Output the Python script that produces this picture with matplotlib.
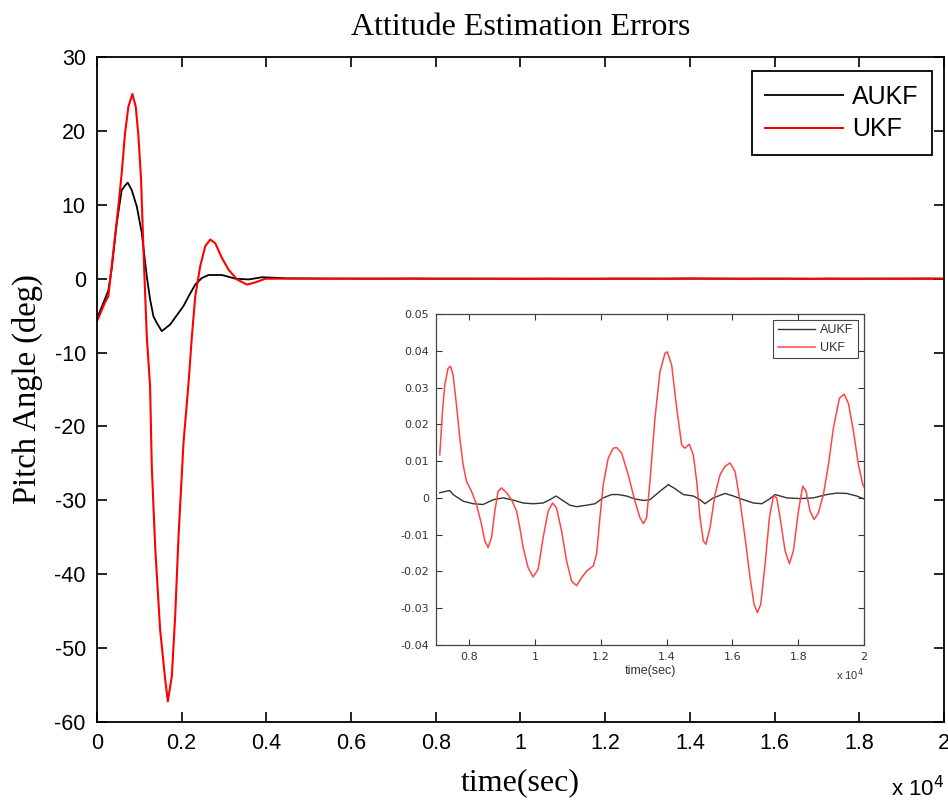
import matplotlib.pyplot as plt
from matplotlib.ticker import FuncFormatter, MultipleLocator
import numpy as np

plt.rcParams['axes.unicode_minus'] = False

# transient part of the response (time in s, pitch error in deg)
t_aukf_start = [20, 150, 268, 347, 466, 584, 663, 726, 820, 939, 1057, 1176,
                1254, 1333, 1413, 1531, 1728, 2043, 2162, 2320, 2478, 2635,
                2951, 3267, 3582, 3898, 4500, 5500, 6500]
aukf_start = [-5.1, -3.3, -1.6, 1.3, 7.5, 12.0, 12.6, 13.0, 12.0, 9.8, 6.2,
              0.3, -2.8, -5.1, -6.0, -7.1, -6.2, -3.7, -2.4, -0.8, 0.1, 0.5,
              0.5, 0.0, -0.1, 0.2, 0.05, 0.01, 0.002]

t_ukf_start = [20, 190, 268, 347, 426, 505, 584, 663, 742, 836, 915, 979,
               1041, 1097, 1176, 1254, 1294, 1373, 1491, 1610, 1673, 1767,
               1846, 1925, 2043, 2162, 2241, 2320, 2438, 2556, 2675, 2793,
               2951, 3109, 3306, 3543, 3740, 3977, 4500, 5500, 6500]
ukf_start = [-5.5, -3.2, -2.4, 1.7, 5.7, 9.8, 14.3, 19.7, 23.3, 25.0, 23.3,
             19.3, 13.4, 3.9, -7.8, -14.6, -25.4, -36.2, -47.5, -54.2, -57.2,
             -53.8, -45.7, -34.9, -22.2, -14.1, -7.8, -2.4, 1.7, 4.4, 5.3, 4.8,
             2.8, 1.2, -0.1, -0.8, -0.5, 0.0, 0.0, 0.01, 0.005]

# steady-state part (zoomed view)
t_aukf_ss = [7112, 7416, 7517, 7821, 8126, 8430, 8734, 9038, 9343, 9644,
             9948, 10252, 10455, 10638, 10812, 11065, 11268, 11572, 11825,
             12077, 12330, 12532, 12786, 13040, 13300, 13496, 13800, 14054,
             14257, 14510, 14815, 15016, 15168, 15421, 15776, 16030, 16334,
             16638, 16891, 17094, 17296, 17651, 18056, 18460, 18866, 19170,
             19474, 19778, 20000]
aukf_ss = [0.0014, 0.0020, 0.0009, -0.0009, -0.0016, -0.0018, -0.0005, 0.0,
           -0.0006, -0.0014, -0.0016, -0.0014, -0.0005, 0.0005, -0.0005,
           -0.0020, -0.0024, -0.0020, -0.0016, 0.0, 0.0009, 0.0009, 0.0005,
           -0.0003, -0.0007, -0.0005, 0.0018, 0.0036, 0.0025, 0.0009, 0.0005,
           -0.0005, -0.0016, 0.0, 0.0012, 0.0005, -0.0005, -0.0014, -0.0016,
           -0.0005, 0.0009, 0.0, -0.0002, 0.0, 0.0009, 0.0013, 0.0012, 0.0005,
           -0.0003]

t_ukf_ss = [7112, 7194, 7264, 7364, 7437, 7517, 7619, 7720, 7821, 7923, 8075,
            8227, 8379, 8480, 8580, 8683, 8784, 8884, 8987, 9140, 9292, 9444,
            9544, 9644, 9796, 9948, 10101, 10252, 10404, 10537, 10657, 10812,
            10964, 11116, 11268, 11420, 11572, 11775, 11875, 11976, 12077,
            12228, 12380, 12483, 12636, 12836, 13040, 13192, 13300, 13395,
            13496, 13648, 13800, 13952, 14023, 14156, 14308, 14460, 14560,
            14691, 14812, 14915, 15016, 15117, 15198, 15320, 15472, 15624,
            15776, 15928, 16080, 16232, 16384, 16536, 16658, 16759, 16861,
            16992, 17124, 17245, 17346, 17448, 17600, 17731, 17853, 18005,
            18136, 18236, 18358, 18480, 18612, 18764, 18916, 19068, 19250,
            19392, 19524, 19676, 19828, 19960, 20000]
ukf_ss = [0.0117, 0.0235, 0.0307, 0.0352, 0.0358, 0.0334, 0.0253, 0.0163,
          0.0090, 0.0045, 0.0018, -0.0018, -0.0072, -0.0117, -0.0135, -0.0108,
          -0.0036, 0.0018, 0.0027, 0.0014, -0.0005, -0.0036, -0.0081, -0.0135,
          -0.0190, -0.0215, -0.0194, -0.0108, -0.0036, -0.0014, -0.0027,
          -0.0090, -0.0172, -0.0226, -0.0239, -0.0217, -0.0199, -0.0185,
          -0.0153, -0.0054, 0.0036, 0.0108, 0.0135, 0.0137, 0.0122, 0.0063,
          -0.0009, -0.0054, -0.0070, -0.0054, 0.0045, 0.0217, 0.0343, 0.0393,
          0.0397, 0.0361, 0.0244, 0.0144, 0.0135, 0.0146, 0.0117, 0.0045,
          -0.0054, -0.0117, -0.0126, -0.0081, 0.0009, 0.0063, 0.0086, 0.0095,
          0.0072, -0.0009, -0.0108, -0.0217, -0.0289, -0.0312, -0.0289,
          -0.0181, -0.0054, 0.0005, 0.0, -0.0054, -0.0144, -0.0179, -0.0144,
          -0.0036, 0.0032, 0.0018, -0.0036, -0.0059, -0.0041, 0.0009, 0.0090,
          0.0190, 0.0271, 0.0282, 0.0257, 0.0181, 0.0090, 0.0036, 0.0030]

t_aukf = np.array(t_aukf_start + t_aukf_ss)
aukf = np.array(aukf_start + aukf_ss)
t_ukf = np.array(t_ukf_start + t_ukf_ss)
ukf = np.array(ukf_start + ukf_ss)

sci = FuncFormatter(lambda v, p: '%g' % round(v / 1e4, 3))

fig = plt.figure(figsize=(9.48, 8.01), dpi=100)

ax = fig.add_axes([0.1023, 0.0986, 0.8935, 0.8302])
ax.plot(t_aukf, aukf, color='black', lw=1.3, label='AUKF')
ax.plot(t_ukf, ukf, color='red', lw=1.5, label='UKF')
ax.set_xlim(0, 20000)
ax.set_ylim(-60, 30)
ax.xaxis.set_major_locator(MultipleLocator(2000))
ax.yaxis.set_major_locator(MultipleLocator(10))
ax.xaxis.set_major_formatter(sci)
ax.tick_params(direction='in', top=True, right=True, length=7, width=1.2,
               labelsize=15.5, pad=8)
for lab in ax.get_xticklabels() + ax.get_yticklabels():
    lab.set_family('Liberation Sans')
for s in ax.spines.values():
    s.set_linewidth(1.3)
ax.set_title('Attitude Estimation Errors', family='Liberation Serif',
             fontsize=23, pad=16)
ax.set_xlabel('time(sec)', family='Liberation Serif', fontsize=23, labelpad=10)
ax.set_ylabel('Pitch Angle (deg)', family='Liberation Serif', fontsize=23.5,
              labelpad=8)
ax.text(1.0, -0.1, 'x 10$^4$', transform=ax.transAxes, ha='right', va='center',
        fontsize=16, family='Liberation Sans')
leg = ax.legend(loc='upper right', bbox_to_anchor=(0.9858, 0.979),
                fancybox=False, edgecolor='black', framealpha=1,
                borderaxespad=0, prop={'family': 'Liberation Sans', 'size': 18},
                handlelength=3.1, handletextpad=0.35, labelspacing=0.35,
                borderpad=0.55)
leg.get_frame().set_linewidth(1.3)

ins = fig.add_axes([0.46, 0.1948, 0.4515, 0.4132])
ins.plot(t_aukf_ss, aukf_ss, color='#333333', lw=1.0, label='AUKF')
ins.plot(t_ukf_ss, ukf_ss, color='#ff4545', lw=1.1, label='UKF')
ins.set_xlim(7000, 20000)
ins.set_ylim(-0.04, 0.05)
ins.xaxis.set_major_locator(MultipleLocator(2000))
ins.yaxis.set_major_locator(MultipleLocator(0.01))
ins.xaxis.set_major_formatter(sci)
ins.yaxis.set_major_formatter(FuncFormatter(lambda v, p: '%g' % round(v, 3)))
ins.tick_params(direction='in', top=True, right=True, length=4, width=0.8,
                labelsize=8, colors='#333333', pad=5)
for s in ins.spines.values():
    s.set_linewidth(0.9)
    s.set_color('#444444')
ins.set_xlabel('time(sec)', fontsize=9, family='Liberation Sans',
               color='#333333', labelpad=2)
ins.text(1.0, -0.09, 'x 10$^4$', transform=ins.transAxes, ha='right',
         va='center', fontsize=8, family='Liberation Sans', color='#333333')
ileg = ins.legend(loc='upper right', bbox_to_anchor=(0.986, 0.982),
                  fancybox=False, edgecolor='#444444', framealpha=1,
                  borderaxespad=0, prop={'family': 'Liberation Sans', 'size': 9},
                  handlelength=3.0, handletextpad=0.4, labelspacing=0.45,
                  borderpad=0.35)
ileg.get_frame().set_linewidth(0.8)
for t in ileg.get_texts():
    t.set_color('#333333')

fig.savefig('out.png', dpi=100)
